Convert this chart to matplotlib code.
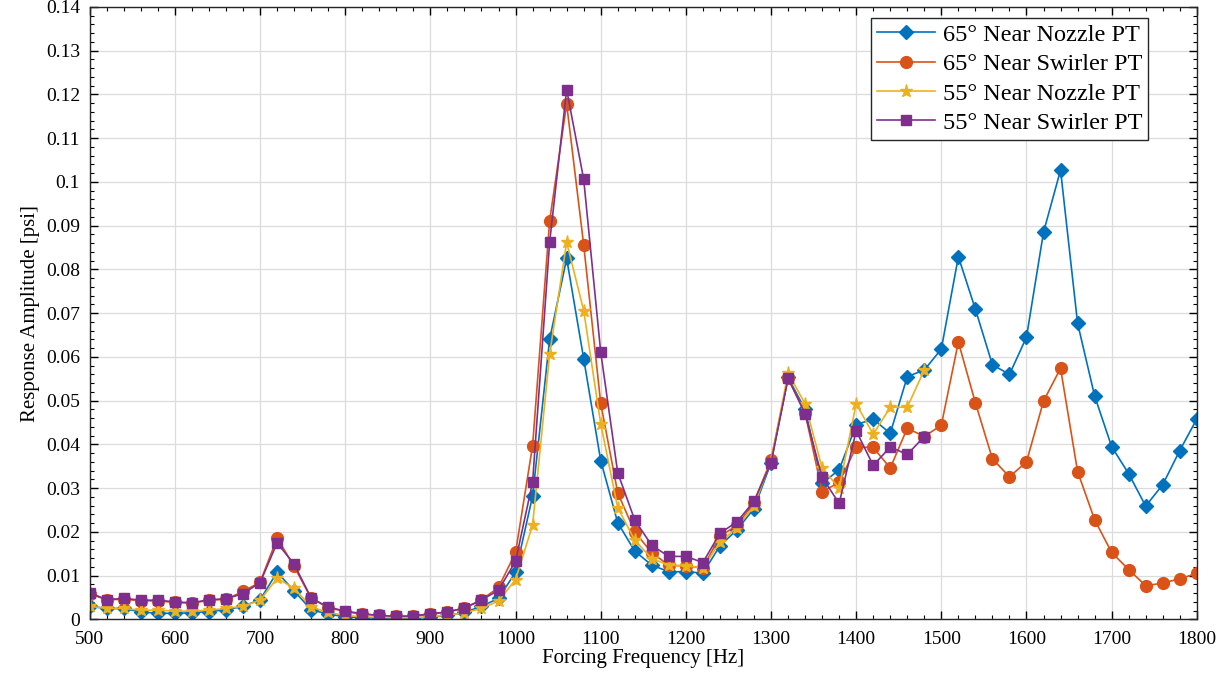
import numpy as np
import matplotlib
matplotlib.use('Agg')
import matplotlib.pyplot as plt
from matplotlib.ticker import MultipleLocator, FuncFormatter

# forcing frequencies [Hz]
freq_65 = np.arange(500, 1801, 20)
freq_55 = np.arange(500, 1481, 20)

nozzle_65 = [0.003, 0.0025, 0.0025, 0.0017, 0.0014, 0.0014, 0.0015, 0.0018, 0.0022, 0.003,
             0.0045, 0.0108, 0.0065, 0.0022, 0.0012, 0.0006, 0.0004, 0.0003, 0.0003, 0.0003,
             0.0005, 0.0009, 0.0016, 0.003, 0.0048, 0.0108, 0.0282, 0.064, 0.0825, 0.0596,
             0.0363, 0.0221, 0.0156, 0.0124, 0.0109, 0.0109, 0.0106, 0.0168, 0.0205, 0.0253,
             0.0358, 0.0553, 0.048, 0.0311, 0.0342, 0.0445, 0.0458, 0.0425, 0.0555, 0.057,
             0.0618, 0.0829, 0.0709, 0.0582, 0.056, 0.0645, 0.0885, 0.1027, 0.0677, 0.0511,
             0.0395, 0.0333, 0.0259, 0.0308, 0.0386, 0.0458]

swirler_65 = [0.0058, 0.0045, 0.0046, 0.0043, 0.0042, 0.0039, 0.0037, 0.0044, 0.0046, 0.0064,
              0.0085, 0.0186, 0.0121, 0.0048, 0.0027, 0.0018, 0.0012, 0.0009, 0.0007, 0.0007,
              0.0012, 0.0017, 0.0026, 0.0045, 0.0073, 0.0153, 0.0397, 0.0911, 0.1178, 0.0856,
              0.0494, 0.0289, 0.0200, 0.0152, 0.0124, 0.0122, 0.0118, 0.019, 0.0215, 0.0267,
              0.0365, 0.0552, 0.0472, 0.0292, 0.0313, 0.0394, 0.0393, 0.0346, 0.0437, 0.0418,
              0.0444, 0.0634, 0.0495, 0.0367, 0.0326, 0.036, 0.0499, 0.0574, 0.0338, 0.0228,
              0.0153, 0.0114, 0.0077, 0.0083, 0.0093, 0.0105]

nozzle_55 = [0.003, 0.0025, 0.0025, 0.0021, 0.0021, 0.0019, 0.0019, 0.0021, 0.0025, 0.003,
             0.0044, 0.0094, 0.0071, 0.0028, 0.0016, 0.0009, 0.0006, 0.0005, 0.0004, 0.0004,
             0.0006, 0.001, 0.0015, 0.0025, 0.0042, 0.0091, 0.0216, 0.0606, 0.0862, 0.0706,
             0.0447, 0.0255, 0.0181, 0.0139, 0.0124, 0.0122, 0.0118, 0.0176, 0.021, 0.026,
             0.0362, 0.0563, 0.0493, 0.0346, 0.030, 0.0493, 0.0423, 0.0485, 0.0485, 0.057]

swirler_55 = [0.0061, 0.0045, 0.0048, 0.0044, 0.0044, 0.004, 0.0038, 0.0045, 0.0047, 0.0059,
              0.0084, 0.0175, 0.0126, 0.0049, 0.0028, 0.0019, 0.0013, 0.0009, 0.0007, 0.0008,
              0.0013, 0.0017, 0.0026, 0.0044, 0.0067, 0.0133, 0.0314, 0.0862, 0.1211, 0.1006,
              0.0611, 0.0335, 0.0227, 0.0169, 0.0144, 0.0144, 0.013, 0.0197, 0.0223, 0.027,
              0.0358, 0.0551, 0.047, 0.0325, 0.0265, 0.0431, 0.0352, 0.0394, 0.0377, 0.0418]

plt.rcParams['font.family'] = ['Liberation Serif', 'DejaVu Serif']

fig = plt.figure(figsize=(12.3, 6.89), dpi=100)
ax = fig.add_axes([0.073, 0.101, 0.9, 0.889])

ax.plot(freq_65, nozzle_65, color='#0072BD', marker='D', ms=7, lw=1.2, label='65° Near Nozzle PT')
ax.plot(freq_65, swirler_65, color='#D95319', marker='o', ms=8.5, lw=1.2, label='65° Near Swirler PT')
ax.plot(freq_55, nozzle_55, color='#EDB120', marker='*', ms=9.5, lw=1.2, label='55° Near Nozzle PT')
ax.plot(freq_55, swirler_55, color='#7E2F8E', marker='s', ms=6.5, lw=1.2, label='55° Near Swirler PT')

ax.set_xlim(500, 1800)
ax.set_ylim(0, 0.14)
ax.xaxis.set_major_locator(MultipleLocator(100))
ax.xaxis.set_minor_locator(MultipleLocator(20))
ax.yaxis.set_major_locator(MultipleLocator(0.01))
ax.yaxis.set_minor_locator(MultipleLocator(0.002))
ax.yaxis.set_major_formatter(FuncFormatter(lambda v, p: '0' if abs(v) < 1e-9 else '%g' % round(v, 3)))

ax.tick_params(which='both', direction='in', top=True, right=True, labelsize=14)
ax.tick_params(axis='x', which='major', pad=8)
ax.tick_params(axis='y', which='major', pad=7)
ax.tick_params(which='major', length=6, width=1)
ax.tick_params(which='minor', length=3, width=0.8)
ax.grid(True, which='major', color='#dcdcdc', lw=0.9)
ax.set_axisbelow(True)
for s in ax.spines.values():
    s.set_linewidth(1.0)
    s.set_color('#262626')

ax.set_xlabel('Forcing Frequency [Hz]', fontsize=15, labelpad=1)
ax.set_ylabel('Response Amplitude [psi]', fontsize=15, labelpad=4)

leg = ax.legend(loc='upper right', bbox_to_anchor=(0.956, 0.982), fontsize=17.5, fancybox=False,
                edgecolor='#262626', framealpha=1, borderpad=0.25, labelspacing=0.3,
                handlelength=2.4, handletextpad=0.3, borderaxespad=0.0)
leg.get_frame().set_linewidth(1.0)

fig.savefig('out.png', dpi=100)
